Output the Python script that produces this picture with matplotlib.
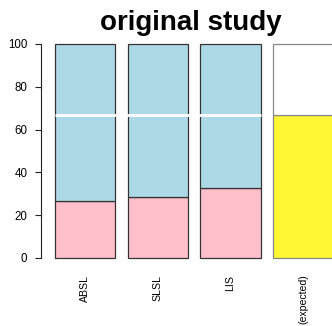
import matplotlib.pyplot as plt

# stacked shares (percent) per group
groups = ["ABSL", "SLSL", "LIS", "(expected)"]
lower = [26.6, 28.5, 32.7, 66.7]
upper = [73.4, 71.5, 67.3, 33.3]
reference_level = 66.7

plt.rcParams["font.family"] = ["Liberation Sans", "DejaVu Sans"]

fig = plt.figure(figsize=(3.32, 3.26), dpi=100)
ax = fig.add_axes([41 / 332, 68 / 326, 1 - 41 / 332, 214 / 326])

width = 1.0
pos = [0.2 + i * 1.2 for i in range(len(groups))]
centers = [p + width / 2 for p in pos]

low_colors = ["pink", "pink", "pink", "#fff733"]
up_colors = ["lightblue", "lightblue", "lightblue", "white"]
edges = ["#333333", "#333333", "#333333", "#888888"]

for x, lo, up, lc, uc, ec in zip(pos, lower, upper, low_colors, up_colors, edges):
    ax.bar(x, lo, width=width, align="edge", color=lc, edgecolor=ec,
           linewidth=0.9, clip_on=False)
    ax.bar(x, up, bottom=lo, width=width, align="edge", color=uc,
           edgecolor=ec, linewidth=0.9, clip_on=False)

# reference line across the observed groups
ax.hlines(reference_level, pos[0], pos[2] + width, color="white", linewidth=2,
          zorder=3)

ax.set_xlim(-0.03, 4.78)
ax.set_ylim(0, 100)
ax.set_yticks([0, 20, 40, 60, 80, 100])
ax.tick_params(axis="y", length=4.3, width=0.8, pad=5.5, labelsize=8.3,
               color="#222222")
ax.set_xticks(centers)
ax.set_xticklabels(groups, rotation=90, fontsize=7.6, va="top")
ax.tick_params(axis="x", length=0, pad=12)

for side in ["top", "right", "bottom"]:
    ax.spines[side].set_visible(False)
ax.spines["left"].set_bounds(0, 100)
ax.spines["left"].set_color("#222222")
ax.spines["left"].set_linewidth(0.8)

fig.text(191 / 332, 1 - 23 / 326, "original study", ha="center", va="center",
         fontsize=20, fontweight="bold")

fig.savefig("out.png", dpi=100)
